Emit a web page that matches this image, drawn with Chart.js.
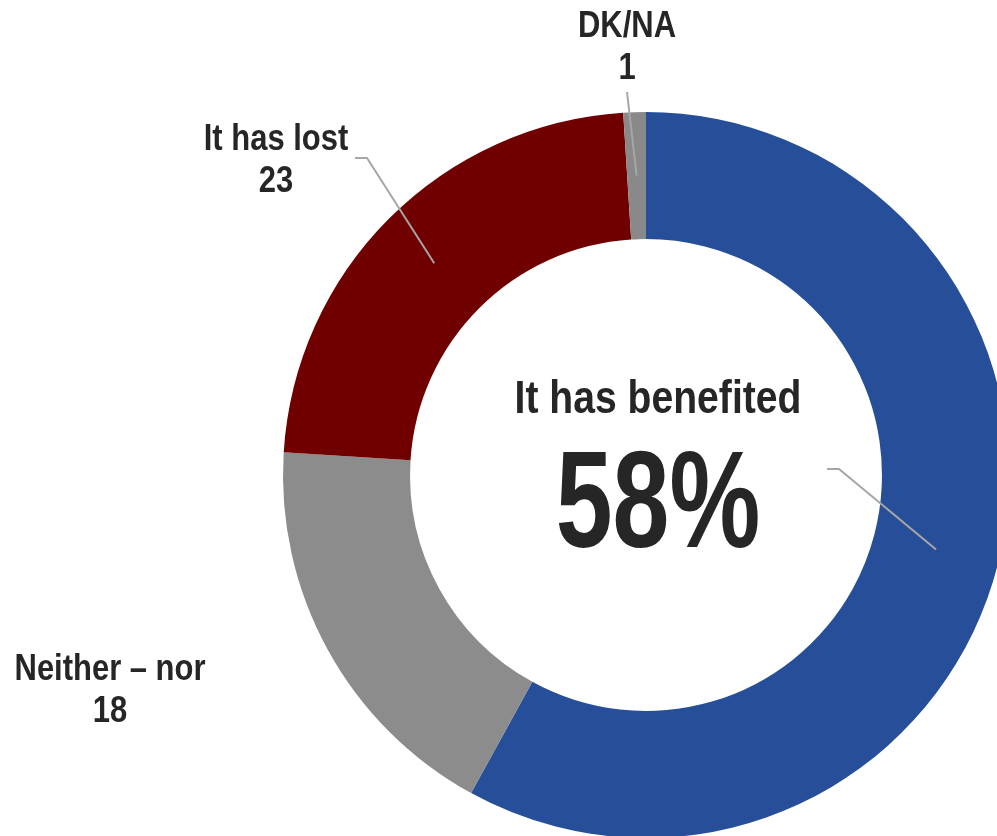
<!DOCTYPE html>
<html>
<head>
<meta charset="utf-8">
<script src="https://cdn.jsdelivr.net/npm/chart.js@4.4.1/dist/chart.umd.min.js"></script>
<style>
  html, body { margin: 0; padding: 0; background: #fff; overflow: hidden; }
  #wrap { width: 997px; height: 836px; overflow: hidden; position: relative; }
  canvas { position: absolute; left: 0; top: 0; }
</style>
</head>
<body>
<div id="wrap"><canvas id="chart" width="1020" height="850"></canvas></div>
<script>
// answers, clockwise from the top
var labels = ['It has benefited', 'Neither \u2013 nor', 'It has lost', 'DK/NA'];
var values = [58, 18, 23, 1];
var colors = ['#274F99', '#8C8C8C', '#700000', '#898989'];

var FONT = '"Liberation Sans", Arial, sans-serif';
var TEXT = '#262626';

// where each outside label goes: text centre x, first baseline, elbow of leader line (null = no line)
var labelSpots = [
  null, // benefited is written in the hole
  { x: 110, y: 680, elbow: null },
  { x: 276, y: 150, elbow: [[355, 158], [367, 158]] },
  { x: 627, y: 37, elbow: [[627, 92]] }
];
var benefitElbow = [[827, 469], [839, 469]];

// the original uses a narrow font, so squeeze the text sideways
function narrowText(ctx, txt, x, y, sx) {
  ctx.save();
  ctx.translate(x, y);
  ctx.scale(sx, 1);
  ctx.fillText(txt, 0, 0);
  ctx.restore();
}

var labelPlugin = {
  id: 'labelPlugin',
  afterDraw: function (c) {
    var ctx = c.ctx;
    var arcs = c.getDatasetMeta(0).data;
    ctx.save();

    function anchor(i) {
      var a = arcs[i].getProps(['x', 'y', 'startAngle', 'endAngle', 'innerRadius', 'outerRadius'], true);
      var mid = (a.startAngle + a.endAngle) / 2;
      var r = (a.innerRadius + a.outerRadius) / 2;
      return [a.x + Math.cos(mid) * r, a.y + Math.sin(mid) * r];
    }
    function leader(pts, end) {
      ctx.beginPath();
      ctx.strokeStyle = '#A6A6A6';
      ctx.lineWidth = 2;
      ctx.moveTo(pts[0][0], pts[0][1]);
      for (var k = 1; k < pts.length; k++) ctx.lineTo(pts[k][0], pts[k][1]);
      ctx.lineTo(end[0], end[1]);
      ctx.stroke();
    }

    // leader lines
    leader(benefitElbow, anchor(0));
    for (var i = 1; i < labels.length; i++) {
      if (labelSpots[i] && labelSpots[i].elbow) leader(labelSpots[i].elbow, anchor(i));
    }

    // outside labels
    ctx.fillStyle = TEXT;
    ctx.textAlign = 'center';
    ctx.textBaseline = 'alphabetic';
    ctx.font = 'bold 36px ' + FONT;
    for (var j = 1; j < labels.length; j++) {
      var s = labelSpots[j];
      narrowText(ctx, labels[j], s.x, s.y, 0.86);
      narrowText(ctx, String(values[j]), s.x, s.y + 42, 0.86);
    }

    // centre text
    var cx = arcs[0].x + 12;
    ctx.font = 'bold 46px ' + FONT;
    narrowText(ctx, labels[0], cx, 413, 0.85);
    ctx.font = 'bold 138px ' + FONT;
    narrowText(ctx, values[0] + '%', cx, 547, 0.74);
    ctx.restore();
  }
};

new Chart(document.getElementById('chart').getContext('2d'), {
  type: 'doughnut',
  data: {
    labels: labels,
    datasets: [{
      data: values,
      backgroundColor: colors,
      borderWidth: 0,
      hoverOffset: 0
    }]
  },
  options: {
    responsive: false,
    animation: false,
    cutout: '65%',
    layout: { padding: { left: 283, top: 112, right: 11, bottom: 12 } },
    plugins: {
      legend: { display: false },
      tooltip: { enabled: false }
    }
  },
  plugins: [labelPlugin]
});
</script>
</body>
</html>
